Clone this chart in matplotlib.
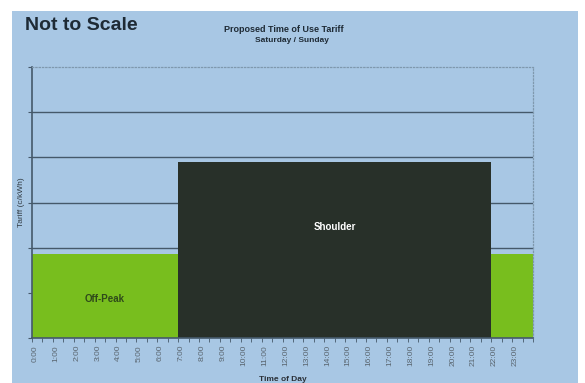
import numpy as np
import matplotlib
matplotlib.use("Agg")
import matplotlib.pyplot as plt
from matplotlib.patches import Rectangle

plt.rcParams['font.family'] = ['Liberation Sans', 'DejaVu Sans']
narrow = ['DejaVu Sans Condensed', 'Liberation Sans', 'DejaVu Sans']

# hourly tariff (arbitrary units, chart is "not to scale")
hours = ["0:00", "1:00", "2:00", "3:00", "4:00", "5:00", "6:00", "7:00",
         "8:00", "9:00", "10:00", "11:00", "12:00", "13:00", "14:00", "15:00",
         "16:00", "17:00", "18:00", "19:00", "20:00", "21:00", "22:00", "23:00"]
tariff = [1.85, 1.85, 1.85, 1.85, 1.85, 1.85, 1.85,
          3.9, 3.9, 3.9, 3.9, 3.9, 3.9, 3.9, 3.9, 3.9, 3.9, 3.9, 3.9, 3.9, 3.9, 3.9,
          1.85, 1.85]
period = ["Off-Peak"] * 7 + ["Shoulder"] * 15 + ["Off-Peak"] * 2

bg = "#a8c7e4"
col = {"Off-Peak": "#78be1e", "Shoulder": "#283029"}
grid_col = "#45596a"

fig = plt.figure(figsize=(5.85, 3.83), dpi=100)
fig.patch.set_facecolor("white")
fig.patches.append(Rectangle((12/585, 0), 566/585, 372/383, transform=fig.transFigure,
                             facecolor=bg, edgecolor="none", zorder=-10))

ax = fig.add_axes([32/585, 45/383, 501/585, 271/383])
ax.set_facecolor(bg)

x = np.arange(len(hours))
ax.bar(x, tariff, width=1.0, align="edge", color=[col[p] for p in period],
       edgecolor="none", zorder=2)

ax.set_xlim(0, 24)
ax.set_ylim(0, 6)
for v in range(1, 6):
    ax.axhline(v, color=grid_col, lw=1.0, zorder=1)

ax.set_yticks(range(0, 7))
ax.set_yticklabels([])
ax.tick_params(axis="y", length=3, color=grid_col, direction="out")

ax.set_xticks(x + 0.15)
ax.set_xticklabels(hours, rotation=90, fontsize=6, color="#5a6670", family=narrow)
ax.set_xticks(np.arange(0, 24.01, 0.5), minor=True)
ax.tick_params(axis="x", which="major", length=0, pad=5)
ax.tick_params(axis="x", which="minor", length=3, color=grid_col, direction="out")

for s in ["left", "bottom"]:
    ax.spines[s].set_color(grid_col)
    ax.spines[s].set_linewidth(1.2)
for s in ["top", "right"]:
    ax.spines[s].set_color("#7f98ad")
    ax.spines[s].set_linestyle(":")
    ax.spines[s].set_linewidth(0.9)

ax.text(3.5, 0.87, "Off-Peak", ha="center", va="center", fontsize=7,
        fontweight="bold", color="#2f4a1a", zorder=3, family=narrow)
ax.text(14.5, 2.45, "Shoulder", ha="center", va="center", fontsize=7,
        fontweight="bold", color="white", zorder=3, family=narrow)

ax.set_ylabel("Tariff (c/kWh)", fontsize=6, color="#333d45", family=narrow)
ax.yaxis.set_label_coords(-0.014, 0.5)
ax.set_xlabel("Time of Day", fontsize=6, fontweight="bold", color="#2a3038", family=narrow)
ax.xaxis.set_label_coords(0.5, -0.14)

fig.text(25/585, 1 - 25/383, "Not to Scale", fontsize=14, fontweight="bold",
         color="#1e2a35", va="center", ha="left")
fig.text(284/585, 1 - 30/383, "Proposed Time of Use Tariff", fontsize=6.5,
         fontweight="bold", color="#1e2a35", va="center", ha="center")
fig.text(292/585, 1 - 40/383, "Saturday / Sunday", fontsize=6,
         fontweight="bold", color="#1e2a35", va="center", ha="center")

fig.savefig("out.png", dpi=100)
